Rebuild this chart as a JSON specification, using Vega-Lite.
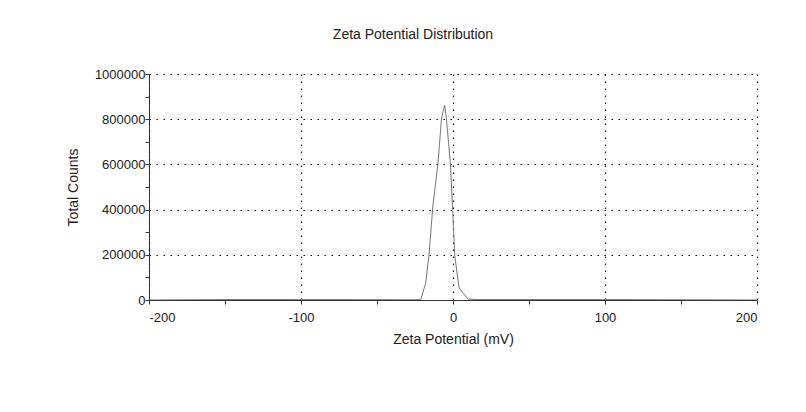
{
  "$schema": "https://vega.github.io/schema/vega-lite/v6.json",
  "autosize": "none",
  "width": 608,
  "height": 226,
  "padding": {"left": 149, "top": 74, "right": 49, "bottom": 112},
  "background": "white",
  "config": {
    "view": {"stroke": null},
    "font": "Liberation Sans"
  },
  "title": {
    "text": "Zeta Potential Distribution",
    "fontSize": 14,
    "fontWeight": "normal",
    "font": "Liberation Sans",
    "color": "#222",
    "anchor": "middle",
    "dx": -40,
    "offset": 26
  },
  "data": {
    "values": [
      {"mv": -200, "counts": 0},
      {"mv": -150, "counts": 2000},
      {"mv": -100, "counts": 2000},
      {"mv": -50, "counts": 1500},
      {"mv": -25, "counts": 1000},
      {"mv": -21.2, "counts": 2000},
      {"mv": -18.0, "counts": 74000},
      {"mv": -15.8, "counts": 199000},
      {"mv": -13.2, "counts": 420000},
      {"mv": -9.9, "counts": 602000},
      {"mv": -7.6, "counts": 801000},
      {"mv": -5.5, "counts": 863000},
      {"mv": -4.3, "counts": 801000},
      {"mv": -1.7, "counts": 602000},
      {"mv": -0.2, "counts": 398000},
      {"mv": 1.1, "counts": 199000},
      {"mv": 4.0, "counts": 53000},
      {"mv": 9.9, "counts": 4000},
      {"mv": 15, "counts": 2000},
      {"mv": 50, "counts": 2000},
      {"mv": 100, "counts": 2000},
      {"mv": 150, "counts": 1000},
      {"mv": 200, "counts": 0}
    ]
  },
  "mark": {"type": "line", "color": "#777", "strokeWidth": 1, "clip": true},
  "encoding": {
    "x": {
      "field": "mv",
      "type": "quantitative",
      "scale": {"domain": [-200, 200], "nice": false, "zero": false},
      "axis": {
        "title": "Zeta Potential (mV)",
        "values": [-200, -150, -100, -50, 0, 50, 100, 150, 200],
        "labelExpr": "datum.value % 100 === 0 ? (datum.value < 0 ? '-' + abs(datum.value) : '' + datum.value) : ''",
        "labelFontSize": 13,
        "labelColor": "#222",
        "labelFont": "Liberation Sans",
        "labelPadding": 7,
        "titleFontSize": 14,
        "titleFontWeight": "normal",
        "titleColor": "#222",
        "titleFont": "Liberation Sans",
        "titlePadding": 8,
        "domainColor": "#333",
        "tickColor": "#333",
        "tickSize": 4,
        "grid": true,
        "gridColor": "#111",
        "gridDash": [1.5, 5.5],
        "gridWidth": 1.2,
        "gridOpacity": {"condition": {"test": "datum.value % 100 === 0", "value": 1}, "value": 0}
      }
    },
    "y": {
      "field": "counts",
      "type": "quantitative",
      "scale": {"domain": [0, 1000000], "nice": false},
      "axis": {
        "title": "Total Counts",
        "values": [0, 100000, 200000, 300000, 400000, 500000, 600000, 700000, 800000, 900000, 1000000],
        "labelExpr": "datum.value % 200000 === 0 ? format(datum.value, 'd') : ''",
        "labelFontSize": 13,
        "labelColor": "#222",
        "labelFont": "Liberation Sans",
        "labelPadding": 0,
        "titleFontSize": 14,
        "titleFontWeight": "normal",
        "titleColor": "#222",
        "titleFont": "Liberation Sans",
        "titlePadding": 14,
        "domainColor": "#333",
        "tickColor": "#333",
        "tickSize": 4,
        "grid": true,
        "gridColor": "#111",
        "gridDash": [1.5, 5.5],
        "gridWidth": 1.2,
        "gridOpacity": {"condition": {"test": "datum.value % 200000 === 0", "value": 1}, "value": 0}
      }
    }
  }
}
